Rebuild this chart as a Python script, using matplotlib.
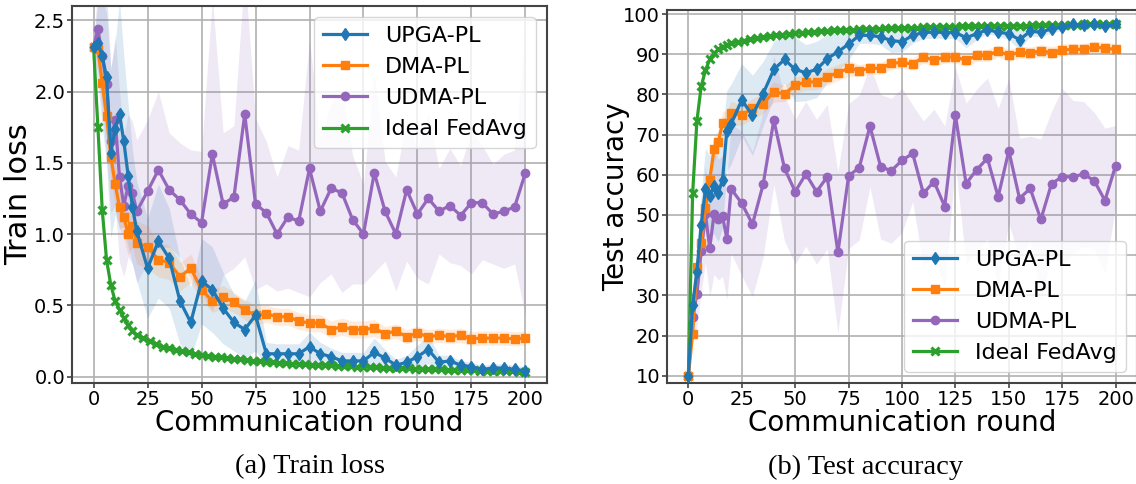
import numpy as np
import matplotlib
matplotlib.use("Agg")
import matplotlib.pyplot as plt

# ---------------- data ----------------
rounds = [0, 2, 4, 6, 8, 10, 12, 14, 16, 18, 20] + list(range(25, 201, 5))
rounds_ideal = [0, 2, 4, 6, 8, 10, 12, 14, 16, 18, 20] + list(range(23, 201, 3))

# Train loss (left)
loss_upga = [2.31, 2.34, 2.25, 2.10, 1.57, 1.74, 1.84, 1.65, 1.41, 1.19, 1.02,
             0.76, 0.95, 0.83, 0.53, 0.38, 0.67, 0.61, 0.48, 0.38, 0.33, 0.43,
             0.16, 0.16, 0.16, 0.16, 0.21, 0.16, 0.14, 0.11, 0.11, 0.11, 0.17,
             0.13, 0.08, 0.10, 0.14, 0.19, 0.10, 0.11, 0.08, 0.07, 0.05, 0.06,
             0.06, 0.05, 0.04]
loss_upga_sd = [0.03, 0.3, 0.5, 0.6, 0.6, 0.6, 0.8, 0.6, 0.5, 0.4, 0.35,
                0.35, 0.4, 0.35, 0.3, 0.25, 0.3, 0.3, 0.25, 0.2, 0.2, 0.25,
                0.08, 0.07, 0.07, 0.07, 0.1, 0.08, 0.06, 0.06, 0.06, 0.06, 0.1,
                0.06, 0.04, 0.05, 0.08, 0.1, 0.05, 0.04, 0.03, 0.03, 0.03, 0.03,
                0.03, 0.03, 0.03]
loss_dma = [2.31, 2.30, 2.06, 1.83, 1.54, 1.35, 1.19, 1.12, 1.00, 1.06, 0.94,
            0.91, 0.82, 0.80, 0.70, 0.76, 0.61, 0.53, 0.56, 0.52, 0.47, 0.43,
            0.44, 0.42, 0.42, 0.39, 0.375, 0.375, 0.33, 0.35, 0.33, 0.33, 0.34,
            0.30, 0.32, 0.28, 0.305, 0.28, 0.29, 0.28, 0.29, 0.265, 0.27, 0.27,
            0.27, 0.265, 0.27]
loss_dma_sd = [0.03, 0.1, 0.15, 0.15, 0.15, 0.15, 0.15, 0.15, 0.15, 0.15, 0.15,
               0.15, 0.12, 0.12, 0.1, 0.1, 0.08, 0.08, 0.08, 0.07, 0.07, 0.07,
               0.06, 0.06, 0.06, 0.06, 0.06, 0.06, 0.06, 0.06, 0.06, 0.06, 0.06,
               0.05, 0.05, 0.05, 0.05, 0.05, 0.05, 0.05, 0.05, 0.05, 0.05, 0.05,
               0.05, 0.05, 0.05]
loss_udma = [2.31, 2.44, 2.25, 2.05, 1.65, 1.80, 1.40, 1.20, 1.34, 1.29, 1.16,
             1.30, 1.45, 1.31, 1.24, 1.14, 1.08, 1.56, 1.21, 1.26, 1.84, 1.21,
             1.15, 1.00, 1.12, 1.09, 1.46, 1.16, 1.32, 1.29, 1.10, 1.00, 1.43,
             1.16, 1.00, 1.31, 1.14, 1.25, 1.16, 1.20, 1.13, 1.22, 1.22, 1.14,
             1.16, 1.19, 1.43]
loss_udma_sd = [0.05, 0.3, 0.4, 0.5, 0.5, 0.6, 0.6, 0.5, 0.5, 0.5, 0.5,
                0.5, 0.55, 0.4, 0.4, 0.45, 0.5, 1.1, 0.5, 0.5, 1.0, 0.6,
                0.5, 0.4, 0.5, 0.5, 0.9, 0.5, 0.6, 0.7, 0.45, 0.35, 0.7,
                0.35, 0.4, 0.5, 0.45, 0.6, 0.3, 0.4, 0.35, 0.5, 0.4, 0.35,
                0.4, 0.4, 1.0]
loss_ideal = [2.31, 1.75, 1.17, 0.82, 0.64, 0.53, 0.47, 0.41, 0.36, 0.32, 0.29,
              0.27, 0.25, 0.23, 0.21, 0.20, 0.19, 0.18, 0.17, 0.16, 0.15, 0.145,
              0.14, 0.135, 0.13, 0.125, 0.12, 0.115, 0.11, 0.106, 0.102, 0.099,
              0.096, 0.093, 0.09, 0.088, 0.086, 0.084, 0.082, 0.08, 0.078, 0.076,
              0.074, 0.072, 0.07, 0.068, 0.066, 0.064, 0.062, 0.06, 0.059, 0.058,
              0.057, 0.056, 0.054, 0.052, 0.051, 0.05, 0.048, 0.047, 0.046, 0.045,
              0.043, 0.042, 0.041, 0.04, 0.039, 0.038, 0.036, 0.035, 0.034]

# Test accuracy (right)
acc_upga = [10.0, 27.6, 35.9, 47.5, 56.5, 54.8, 57.3, 55.4, 58.8, 71.0, 72.6,
            78.6, 74.8, 80.2, 86.2, 88.7, 86.2, 85.4, 86.2, 88.9, 90.6, 92.5,
            94.7, 94.7, 94.3, 93.4, 93.1, 94.7, 95.4, 95.5, 95.4, 95.4, 94.1,
            95.1, 96.1, 95.5, 95.1, 93.6, 95.7, 95.5, 96.3, 96.7, 97.4, 97.2,
            97.4, 96.9, 97.4]
acc_upga_sd = [0.5, 5, 6, 8, 10, 10, 12, 12, 12, 10, 10,
               9, 10, 8, 7, 6, 8, 7, 7, 6, 5, 4,
               2, 2, 2, 3, 2.5, 2, 1.5, 1.5, 1.5, 1.5, 2.5,
               1.5, 1, 1, 1.5, 2.5, 1.2, 1.2, 1, 0.8, 0.6, 0.6,
               0.6, 0.6, 0.6]
acc_dma = [10.0, 20.5, 37.0, 43.0, 51.7, 58.7, 66.3, 68.2, 72.8, 73.0, 75.3,
           74.8, 76.5, 77.7, 80.6, 80.2, 82.3, 83.1, 83.1, 84.4, 85.4, 86.5,
           85.9, 86.5, 86.5, 87.7, 88.0, 87.5, 89.3, 88.5, 89.3, 89.3, 88.5,
           89.7, 89.7, 90.8, 89.7, 90.5, 90.3, 90.9, 90.4, 91.1, 91.2, 91.2,
           91.8, 91.5, 91.2]
acc_dma_sd = [0.5, 2, 4, 4, 4, 3, 3, 3, 3, 3, 3,
              2.5, 2.5, 2.5, 2.5, 2, 2, 2, 2, 2, 2, 2,
              1.5, 1.5, 1.5, 1.5, 1.5, 1.5, 1.5, 1.5, 1.5, 1.5, 1.5,
              1.5, 1.5, 1.5, 1.5, 1.5, 1.5, 1.5, 1.5, 1.5, 1.5, 1.5,
              1.5, 1.5, 1.5]
acc_udma = [10.0, 24.5, 30.4, 41.0, 50.2, 41.7, 50.2, 48.9, 49.7, 44.1, 56.5,
            52.9, 47.7, 57.6, 73.6, 61.6, 55.8, 60.2, 55.8, 59.5, 40.7, 59.7,
            61.8, 72.1, 62.0, 61.0, 63.6, 65.3, 55.4, 58.3, 52.1, 74.8, 57.8,
            61.3, 64.1, 54.5, 66.0, 54.1, 56.6, 48.9, 57.8, 59.5, 59.5, 60.2,
            58.5, 53.6, 62.3]
acc_udma_sd = [0.5, 5, 8, 10, 12, 12, 15, 15, 15, 15, 16,
               18, 18, 18, 16, 18, 18, 18, 18, 18, 20, 18,
               18, 15, 18, 18, 18, 12, 18, 18, 20, 12, 20,
               20, 20, 22, 18, 15, 13, 20, 18, 22, 19, 18,
               17, 18, 10]
acc_ideal = [10.0, 55.4, 73.4, 82.0, 86.0, 88.7, 90.2, 91.2, 91.8, 92.4, 92.8,
             93.1, 93.4, 93.8, 94.1, 94.3, 94.5, 94.7, 94.9, 95.1, 95.3, 95.4,
             95.5, 95.6, 95.7, 95.8, 95.9, 96.0, 96.0, 96.1, 96.2, 96.2, 96.3,
             96.3, 96.4, 96.4, 96.5, 96.5, 96.6, 96.6, 96.7, 96.7, 96.7, 96.8,
             96.8, 96.8, 96.9, 96.9, 96.9, 97.0, 97.0, 97.0, 97.0, 97.1, 97.1,
             97.1, 97.1, 97.2, 97.2, 97.2, 97.2, 97.3, 97.3, 97.3, 97.3, 97.4,
             97.4, 97.4, 97.4, 97.4, 97.5]
acc_ideal_sd = [0.3] + [0.4] * 70

labels = ["UPGA-PL", "DMA-PL", "UDMA-PL", "Ideal FedAvg"]
x_ticks = [0, 25, 50, 75, 100, 125, 150, 175, 200]

# ---------------- plotting ----------------
fig = plt.figure(figsize=(11.36, 4.84), dpi=100)
ax1 = fig.add_axes([72 / 1136, 101 / 484, 475 / 1136, 377 / 484])
ax2 = fig.add_axes([667 / 1136, 101 / 484, 470 / 1136, 373 / 484])

colors = ["tab:blue", "tab:orange", "tab:purple", "tab:green"]
markers = ["d", "s", "o", "x"]
zorders = [5, 4, 3, 2]


def draw(ax, series):
    handles = []
    for (xs, m, sd), c, mk, z, lab in zip(series, colors, markers, zorders, labels):
        xs = np.asarray(xs, dtype=float)
        m = np.asarray(m, dtype=float)
        sd = np.asarray(sd, dtype=float)
        ax.fill_between(xs, m - sd, m + sd, color=c, alpha=0.15, lw=0, zorder=1)
        kw = dict(color=c, lw=2.3, marker=mk, zorder=z, label=lab)
        if mk == "x":
            kw.update(ms=5.5, mew=2.2)
        else:
            kw.update(ms=6.5 if mk == "d" else 6)
        h, = ax.plot(xs, m, **kw)
        handles.append(h)
    return handles


h1 = draw(ax1, [(rounds, loss_upga, loss_upga_sd),
                (rounds, loss_dma, loss_dma_sd),
                (rounds, loss_udma, loss_udma_sd),
                (rounds_ideal, loss_ideal, [0.0] * len(rounds_ideal))])
h2 = draw(ax2, [(rounds, acc_upga, acc_upga_sd),
                (rounds, acc_dma, acc_dma_sd),
                (rounds, acc_udma, acc_udma_sd),
                (rounds_ideal, acc_ideal, acc_ideal_sd)])

for ax in (ax1, ax2):
    ax.set_xlim(-10, 210)
    ax.set_xticks(x_ticks)
    ax.grid(True, color="#b0b0b0", lw=1.2, zorder=0)
    ax.set_axisbelow(True)
    ax.tick_params(labelsize=14, width=1.2, length=3.5, pad=1.5, color="#444444")
    for sp in ax.spines.values():
        sp.set_color("#444444")
        sp.set_linewidth(1.5)
    ax.set_xlabel("Communication round", fontsize=20, labelpad=0)

ax1.set_ylim(-0.045, 2.6)
ax1.set_yticks([0.0, 0.5, 1.0, 1.5, 2.0, 2.5])
ax1.set_ylabel("Train loss", fontsize=22)
ax1.yaxis.set_label_coords(-0.082, 0.5)
ax1.legend(handles=h1, loc="upper right", fontsize=16, framealpha=0.8)

ax2.set_ylim(8.2, 101)
ax2.set_yticks([10, 20, 30, 40, 50, 60, 70, 80, 90, 100])
ax2.set_ylabel("Test accuracy", fontsize=20)
ax2.yaxis.set_label_coords(-0.078, 0.5)
ax2.legend(handles=h2, loc="lower right", fontsize=16, framealpha=0.8)

fig.text(310 / 1136, 1 - 467 / 484, "(a) Train loss", ha="center", va="center",
         fontsize=20.5, family="Liberation Serif")
fig.text(866 / 1136, 1 - 467 / 484, "(b) Test accuracy", ha="center", va="center",
         fontsize=20.5, family="Liberation Serif")

fig.savefig("out.png", dpi=100)
